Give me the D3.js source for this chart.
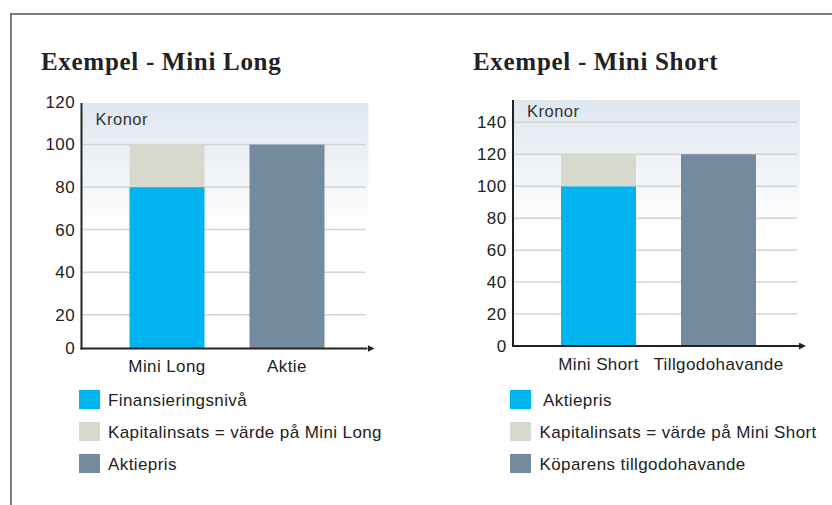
<!DOCTYPE html>
<html>
<head>
<meta charset="utf-8">
<script src="https://cdn.jsdelivr.net/npm/d3@7/dist/d3.min.js"></script>
<style>
  html, body { margin: 0; padding: 0; background: #fff; }
  svg { display: block; }
</style>
</head>
<body>
<svg id="chart" width="832" height="505"></svg>
<script>
// ---------- DATA ----------
const longTitle = "Exempel - Mini Long";
const longCategories = ["Mini Long", "Aktie"];
const longFinansiering = [80, 0];
const longKapital = [20, 0];
const longAktiepris = [0, 100];
const longTicks = [0, 20, 40, 60, 80, 100, 120];
const longLegend = ["Finansieringsnivå", "Kapitalinsats = värde på Mini Long", "Aktiepris"];

const shortTitle = "Exempel - Mini Short";
const shortCategories = ["Mini Short", "Tillgodohavande"];
const shortAktiepris = [100, 0];
const shortKapital = [20, 0];
const shortTillgodo = [0, 120];
const shortTicks = [0, 20, 40, 60, 80, 100, 120, 140];
const shortLegend = ["Aktiepris", "Kapitalinsats = värde på Mini Short", "Köparens tillgodohavande"];

const unitLabel = "Kronor";
const colors = ["#00b4ef", "#d8d9cd", "#748a9f"];

// ---------- DRAW ----------
const FS = 17, LS = 0.4;
const SANS = "'Liberation Sans', Arial, sans-serif";
const svg = d3.select("#chart");
const defs = svg.append("defs");
const grad = defs.append("linearGradient").attr("id", "bgGrad")
  .attr("x1", 0).attr("y1", 0).attr("x2", 0).attr("y2", 1);
grad.append("stop").attr("offset", 0).attr("stop-color", "#dfe7ef");
grad.append("stop").attr("offset", 0.53).attr("stop-color", "#ffffff");
grad.append("stop").attr("offset", 1).attr("stop-color", "#ffffff");

const arrow = defs.append("marker").attr("id", "arrow")
  .attr("viewBox", "0 0 10 10").attr("refX", 0).attr("refY", 5)
  .attr("markerWidth", 7).attr("markerHeight", 7).attr("markerUnits", "userSpaceOnUse")
  .attr("orient", "auto");
arrow.append("path").attr("d", "M0,0 L10,5 L0,10 z").attr("fill", "#222");

// outer frame
svg.append("line").attr("x1", 10).attr("x2", 832).attr("y1", 14).attr("y2", 14)
  .attr("stroke", "#555").attr("stroke-width", 1.5);
svg.append("line").attr("x1", 11).attr("x2", 11).attr("y1", 14).attr("y2", 505)
  .attr("stroke", "#555").attr("stroke-width", 1.5);

function drawPanel(cfg) {
  const g = svg.append("g");
  const y = d3.scaleLinear().domain(cfg.yDomain).range(cfg.yRange);
  const x = d3.scaleBand().domain(cfg.categories)
    .range([cfg.axisX, cfg.axisX + 291]).paddingInner(0.375).paddingOuter(0.4);
  const y0 = y(0);
  const top = cfg.bgTop;
  const plotW = 286;

  // title
  g.append("text").attr("x", cfg.titleX).attr("y", 70)
    .attr("font-family", "'Liberation Serif', serif").attr("font-weight", "bold")
    .attr("font-size", 25).attr("letter-spacing", 0.7).attr("fill", "#222")
    .text(cfg.title);

  // background
  g.append("rect").attr("x", cfg.axisX + 1).attr("y", top)
    .attr("width", plotW).attr("height", y0 - top).attr("fill", "url(#bgGrad)");

  // gridlines
  g.selectAll(".grid").data(cfg.ticks.filter(t => t > 0 && y(t) > top + 2)).join("line")
    .attr("x1", cfg.axisX + 1).attr("x2", cfg.axisX + plotW - 2)
    .attr("y1", d => y(d)).attr("y2", d => y(d))
    .attr("stroke", "#d2d3d5").attr("stroke-width", 1.5);

  // unit label
  g.append("text").attr("x", cfg.axisX + 14).attr("y", cfg.unitY)
    .attr("font-family", SANS).attr("font-size", 16.5)
    .attr("letter-spacing", 0.5).attr("fill", "#333").text(unitLabel);

  // bars (stacked)
  const stackData = cfg.categories.map((c, i) => ({ cat: c, s0: cfg.series[0][i], s1: cfg.series[1][i], s2: cfg.series[2][i] }));
  const stacked = d3.stack().keys(["s0", "s1", "s2"])(stackData);
  g.selectAll(".layer").data(stacked).join("g")
    .attr("fill", (d, i) => colors[i])
    .selectAll("rect").data(d => d.filter(v => v[1] > v[0])).join("rect")
    .attr("x", d => x(d.data.cat)).attr("width", x.bandwidth())
    .attr("y", d => y(d[1])).attr("height", d => y(d[0]) - y(d[1]));

  // y axis tick labels
  const yAxis = d3.axisLeft(y).tickValues(cfg.ticks).tickSize(0).tickPadding(6.5);
  const ya = g.append("g").attr("transform", `translate(${cfg.axisX},0)`).call(yAxis);
  ya.select(".domain").remove();
  ya.selectAll("text").attr("font-family", SANS)
    .attr("font-size", FS).attr("letter-spacing", LS).attr("fill", "#222");

  // x axis labels
  const xAxis = d3.axisBottom(x).tickSize(0).tickPadding(0);
  const xa = g.append("g").attr("transform", `translate(0,${y0})`).call(xAxis);
  xa.select(".domain").remove();
  xa.selectAll("text").attr("dy", null).attr("y", 23.5)
    .attr("font-family", SANS)
    .attr("font-size", FS).attr("letter-spacing", LS).attr("fill", "#222");

  // axis lines
  g.append("line").attr("x1", cfg.axisX).attr("x2", cfg.axisX)
    .attr("y1", top).attr("y2", y0 + 1).attr("stroke", "#222").attr("stroke-width", 2);
  g.append("line").attr("x1", cfg.axisX - 1).attr("x2", cfg.axisX + 286)
    .attr("y1", y0).attr("y2", y0).attr("stroke", "#222").attr("stroke-width", 2)
    .attr("marker-end", "url(#arrow)");

  // legend
  const lg = g.selectAll(".leg").data(cfg.legend).join("g")
    .attr("transform", (d, i) => `translate(${cfg.legendX},${390 + i * 32})`);
  lg.append("rect").attr("width", 21).attr("height", 19).attr("fill", (d, i) => colors[i]);
  lg.append("text").attr("x", (d, i) => cfg.legendTextX[i]).attr("y", 16)
    .attr("font-family", SANS)
    .attr("font-size", FS).attr("letter-spacing", LS).attr("fill", "#222")
    .text(d => d);
}

drawPanel({
  title: longTitle, titleX: 41,
  categories: longCategories,
  series: [longFinansiering, longKapital, longAktiepris],
  ticks: longTicks,
  yDomain: [0, 20, 120], yRange: [348.5, 314.7, 102],
  bgTop: 103, axisX: 81.5, unitY: 125,
  legend: longLegend, legendX: 79, legendTextX: [29, 29, 29]
});

drawPanel({
  title: shortTitle, titleX: 473,
  categories: shortCategories,
  series: [shortAktiepris, shortKapital, shortTillgodo],
  ticks: shortTicks,
  yDomain: [0, 154], yRange: [346, 100],
  bgTop: 100, axisX: 513, unitY: 117,
  legend: shortLegend, legendX: 510, legendTextX: [33, 29.5, 29.5]
});
</script>
</body>
</html>
